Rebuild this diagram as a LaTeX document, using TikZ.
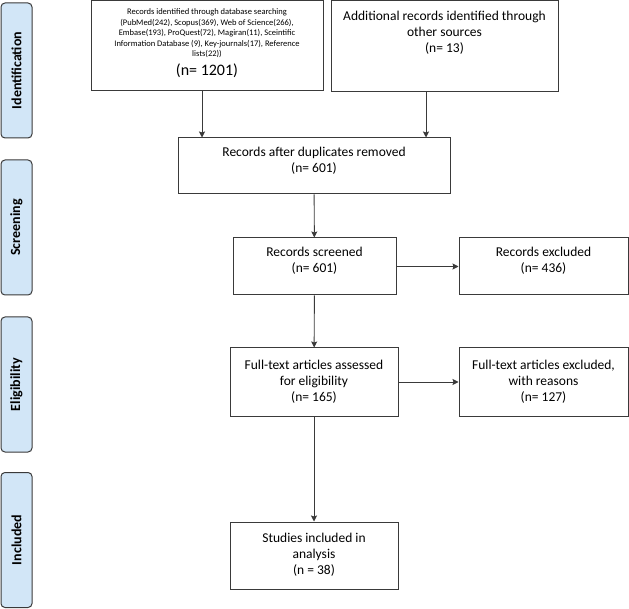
\documentclass[tikz,border=0pt]{standalone}
\usepackage{fontspec}
\setmainfont{Carlito}
\usetikzlibrary{arrows.meta}
\definecolor{tabblue}{HTML}{D2E6F7}
\definecolor{edgegray}{HTML}{3A3A3A}
\tikzset{
  prbox/.style={draw=edgegray,line width=1pt,align=center,inner sep=2pt,font=\fontsize{13.5}{16}\selectfont},
  phase/.style={draw=edgegray,fill=tabblue,line width=1pt,rounded corners=4pt,rotate=90,
    minimum width=135pt,minimum height=31pt,inner sep=0pt,font=\bfseries\fontsize{14}{16}\selectfont},
  flow/.style={->,draw=edgegray,line width=0.9pt},
}
\begin{document}
\begin{tikzpicture}[x=1pt,y=-1pt,>={Stealth[length=6pt,width=6pt,inset=1pt]}]
    \useasboundingbox (0,0) rectangle (629,609);
    % phase tabs
    \node[phase] (tabId)  at (16.5,70.5)  {Identification};
    \node[phase] (tabScr) at (16.5,227.5) {Screening};
    \node[phase] (tabEli) at (16.5,384.5) {Eligibility};
    \node[phase] (tabInc) at (16.5,540)   {Included};
    % boxes
    \node[prbox,minimum width=232pt,minimum height=90pt,text depth=8pt,
          font=\fontsize{8.5}{10.5}\selectfont] (idRec) at (207,46)
        {Records identified through database searching\\
        (PubMed(242), Scopus(369), Web of Science(266),\\
        Embase(193), ProQuest(72), Magiran(11), Sceintific\\
        Information Database (9), Key-journals(17), Reference\\
        lists(22))\\[5pt]
        \fontsize{16}{16}\selectfont (n= 1201)};
    \node[prbox,minimum width=227pt,minimum height=91pt,text depth=29pt] (idOther) at (444.5,46.5)
        {Additional records identified through\\other sources\\(n= 13)};
    \node[prbox,minimum width=272pt,minimum height=56pt,text depth=13pt] (dupRem) at (314,166)
        {Records after duplicates removed\\(n= 601)};
    \node[prbox,minimum width=163pt,minimum height=57pt,text depth=14pt] (scrRec) at (314.5,266.5)
        {Records screened\\(n= 601)};
    \node[prbox,minimum width=169pt,minimum height=57pt,text depth=14pt] (scrExc) at (543.5,266.5)
        {Records excluded\\(n= 436)};
    \node[prbox,minimum width=168pt,minimum height=68pt,text depth=2pt] (eliAss) at (314,382)
        {Full-text articles assessed\\for eligibility\\(n= 165)};
    \node[prbox,minimum width=169pt,minimum height=68pt,text depth=2pt] (eliExc) at (543.5,382)
        {Full-text articles excluded,\\with reasons\\(n= 127)};
    \node[prbox,minimum width=168pt,minimum height=67pt,text depth=4pt] (incStud) at (314,555.5)
        {Studies included in\\analysis\\(n = 38)};
    % arrows
    \draw[flow] ([xshift=-5pt]idRec.south) -- ([xshift=-5pt]idRec.south |- dupRem.north);
    \draw[flow] ([xshift=-18.5pt]idOther.south) -- ([xshift=-18.5pt]idOther.south |- dupRem.north);
    \draw[flow] (dupRem) -- (scrRec);
    \draw[flow] (scrRec) -- (scrExc);
    \draw[flow] (scrRec) -- (eliAss);
    \draw[flow] (eliAss) -- (eliExc);
    \draw[flow] (eliAss) -- (incStud);
\end{tikzpicture}
\end{document}
